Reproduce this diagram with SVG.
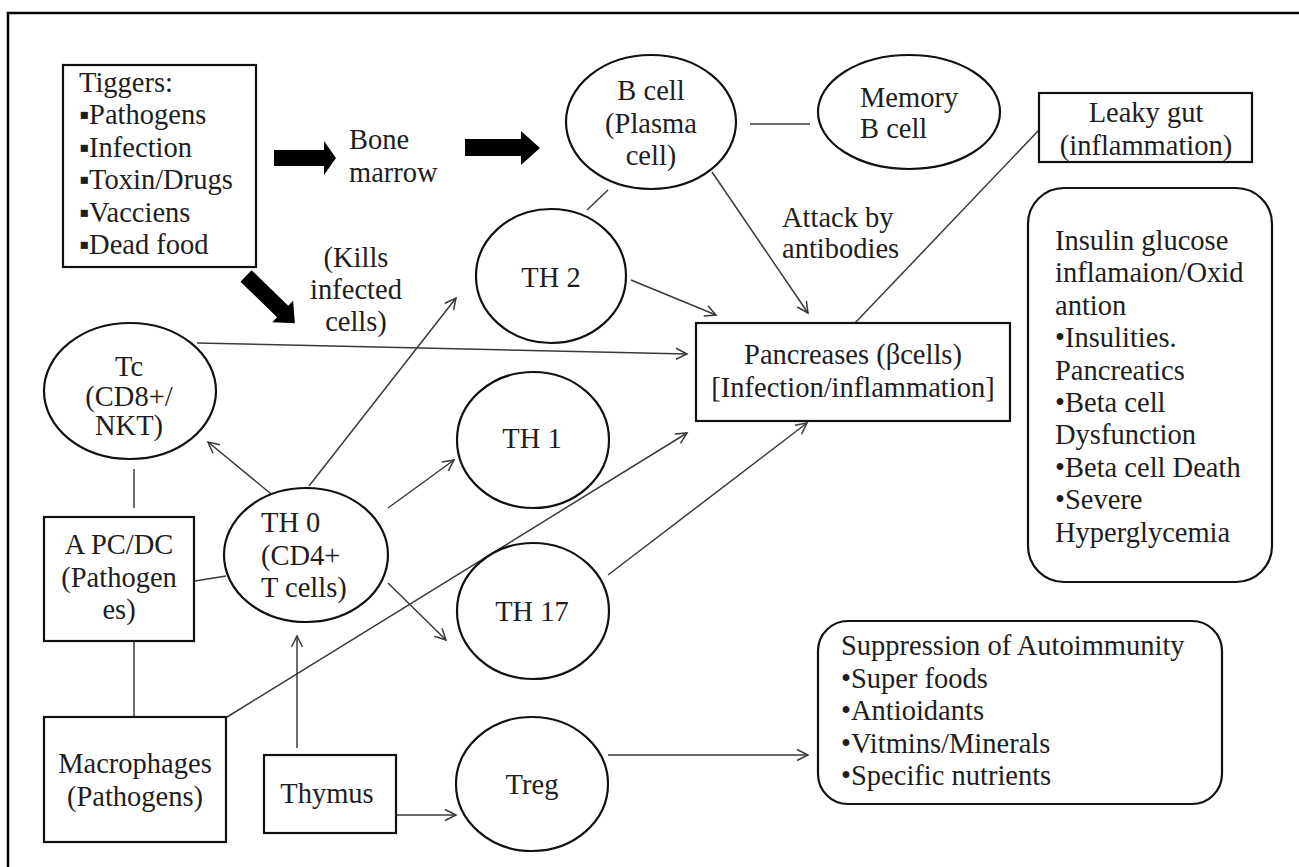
<svg xmlns="http://www.w3.org/2000/svg" width="1299" height="867" viewBox="0 0 1299 867">
<style>
text{font-family:'Liberation Serif','Tinos','Times New Roman','DejaVu Serif',serif;font-size:28.5px;fill:#1e1e1e}
.m{text-anchor:middle}
.n{fill:#fff;stroke:#111;stroke-width:2.2}
.c{fill:none;stroke:#3a3a3a;stroke-width:1.5}
.ca{fill:none;stroke:#3a3a3a;stroke-width:1.5;marker-end:url(#a)}
.blk{fill:#000}
</style>
<defs>
<marker id="a" markerWidth="14" markerHeight="14" refX="12" refY="7" orient="auto" markerUnits="userSpaceOnUse">
<path d="M1,1.5 L12,7 L1,12.5" fill="none" stroke="#3a3a3a" stroke-width="1.5"/>
</marker>
</defs>
<rect width="1299" height="867" fill="#fff"/>
<path d="M8,867 V13 H1299" fill="none" stroke="#000" stroke-width="2.5"/>

<g id="connectors">
<polygon class="blk" points="274,150 324,150 324,141 336,158 324,175 324,166 274,166"/>
<polygon class="blk" points="465,139 521,139 521,131 540,148 521,165 521,156 465,156"/>
<polygon class="blk" transform="translate(246,276) rotate(44)" points="0,-8 51,-8 51,-15 68,0 51,15 51,8 0,8"/>
<line class="c" x1="750" y1="124" x2="810" y2="124"/>
<line class="c" x1="608" y1="190" x2="587" y2="210"/>
<line class="ca" x1="712" y1="172" x2="808" y2="313"/>
<line class="ca" x1="631" y1="280" x2="716" y2="315"/>
<line class="c" x1="1039" y1="130" x2="855" y2="323"/>
<line class="ca" x1="197" y1="343" x2="687" y2="354"/>
<line class="ca" x1="227" y1="717" x2="687" y2="433"/>
<line class="ca" x1="608" y1="575" x2="807" y2="423"/>
<line class="c" x1="134" y1="469" x2="134" y2="508"/>
<line class="c" x1="134" y1="641" x2="134" y2="717"/>
<line class="c" x1="195" y1="581" x2="226" y2="576"/>
<line class="ca" x1="276" y1="498" x2="208" y2="442"/>
<line class="ca" x1="309" y1="486" x2="456" y2="298"/>
<line class="ca" x1="388" y1="508" x2="454" y2="460"/>
<line class="ca" x1="388" y1="583" x2="446" y2="640"/>
<line class="ca" x1="297" y1="748" x2="297" y2="636"/>
<line class="ca" x1="396" y1="815" x2="456" y2="815"/>
<line class="ca" x1="608" y1="755" x2="808" y2="755"/>
</g>

<g id="triggers">
<rect class="n" x="63" y="65" width="193" height="202"/>
<text transform="translate(79,92)"><tspan x="0">Tiggers:</tspan><tspan x="0" dy="32.4">▪Pathogens</tspan><tspan x="0" dy="32.4">▪Infection</tspan><tspan x="0" dy="32.4">▪Toxin/Drugs</tspan><tspan x="0" dy="32.4">▪Vacciens</tspan><tspan x="0" dy="32.4">▪Dead food</tspan></text>
</g>

<g id="bone-marrow">
<text transform="translate(349,149)"><tspan x="0">Bone</tspan><tspan x="0" dy="33">marrow</tspan></text>
</g>

<g id="b-cell">
<ellipse class="n" cx="651" cy="122" rx="85" ry="67"/>
<text class="m" transform="translate(651,100)"><tspan x="0">B cell</tspan><tspan x="0" dy="32.5">(Plasma</tspan><tspan x="0" dy="32.5">cell)</tspan></text>
</g>

<g id="memory-b-cell">
<ellipse class="n" cx="909" cy="112" rx="91" ry="57"/>
<text transform="translate(860,107)"><tspan x="0">Memory</tspan><tspan x="0" dy="31">B cell</tspan></text>
</g>

<g id="leaky-gut">
<rect class="n" x="1039" y="93" width="213" height="69"/>
<text class="m" transform="translate(1146,122)"><tspan x="0">Leaky gut</tspan><tspan x="0" dy="33">(inflammation)</tspan></text>
</g>

<g id="outcomes">
<rect class="n" x="1028" y="188" width="244" height="394" rx="36"/>
<text transform="translate(1055,250)"><tspan x="0">Insulin glucose</tspan><tspan x="0" dy="32.4">inflamaion/Oxid</tspan><tspan x="0" dy="32.4">antion</tspan><tspan x="0" dy="32.4">•Insulities.</tspan><tspan x="0" dy="32.4">Pancreatics</tspan><tspan x="0" dy="32.4">•Beta cell</tspan><tspan x="0" dy="32.4">Dysfunction</tspan><tspan x="0" dy="32.4">•Beta cell Death</tspan><tspan x="0" dy="32.4">•Severe</tspan><tspan x="0" dy="32.4">Hyperglycemia</tspan></text>
</g>

<g id="pancreas">
<rect class="n" x="696" y="323" width="314" height="98"/>
<text class="m" transform="translate(853,364)"><tspan x="0">Pancreases (βcells)</tspan><tspan x="0" dy="33">[Infection/inflammation]</tspan></text>
</g>

<g id="attack-label">
<text transform="translate(782,227)"><tspan x="0">Attack by</tspan><tspan x="0" dy="31">antibodies</tspan></text>
</g>

<g id="kills-label">
<text class="m" transform="translate(356,267)"><tspan x="0">(Kills</tspan><tspan x="0" dy="32">infected</tspan><tspan x="0" dy="32">cells)</tspan></text>
</g>

<g id="th2">
<ellipse class="n" cx="551" cy="276" rx="75" ry="67"/>
<text class="m" transform="translate(551,287)">TH 2</text>
</g>

<g id="tc">
<ellipse class="n" cx="130" cy="391" rx="86" ry="68"/>
<text class="m" transform="translate(129,376)"><tspan x="0">Tc</tspan><tspan x="0" dy="30">(CD8+/</tspan><tspan x="0" dy="29">NKT)</tspan></text>
</g>

<g id="th1">
<ellipse class="n" cx="533" cy="440" rx="76" ry="68"/>
<text class="m" transform="translate(532,448)">TH 1</text>
</g>

<g id="th0">
<ellipse class="n" cx="306" cy="555" rx="82" ry="67"/>
<text transform="translate(261,532)"><tspan x="0">TH 0</tspan><tspan x="0" dy="32.5">(CD4+</tspan><tspan x="0" dy="32.5">T cells)</tspan></text>
</g>

<g id="th17">
<ellipse class="n" cx="533" cy="611" rx="76" ry="68"/>
<text class="m" transform="translate(532,621)">TH 17</text>
</g>

<g id="apc-dc">
<rect class="n" x="44" y="517" width="150" height="124"/>
<text class="m" transform="translate(119,554)"><tspan x="0">A PC/DC</tspan><tspan x="0" dy="32.5">(Pathogen</tspan><tspan x="0" dy="32.5">es)</tspan></text>
</g>

<g id="macrophages">
<rect class="n" x="44" y="717" width="182" height="125"/>
<text class="m" transform="translate(135,773)"><tspan x="0">Macrophages</tspan><tspan x="0" dy="33">(Pathogens)</tspan></text>
</g>

<g id="thymus">
<rect class="n" x="264" y="755" width="132" height="78"/>
<text class="m" transform="translate(327,803)">Thymus</text>
</g>

<g id="treg">
<ellipse class="n" cx="532" cy="784" rx="76" ry="67"/>
<text class="m" transform="translate(532,794)">Treg</text>
</g>

<g id="suppression">
<rect class="n" x="818" y="621" width="404" height="183" rx="30"/>
<text transform="translate(841,655)"><tspan x="0">Suppression of Autoimmunity</tspan><tspan x="0" dy="32.5">•Super foods</tspan><tspan x="0" dy="32.5">•Antioidants</tspan><tspan x="0" dy="32.5">•Vitmins/Minerals</tspan><tspan x="0" dy="32.5">•Specific nutrients</tspan></text>
</g>
</svg>
